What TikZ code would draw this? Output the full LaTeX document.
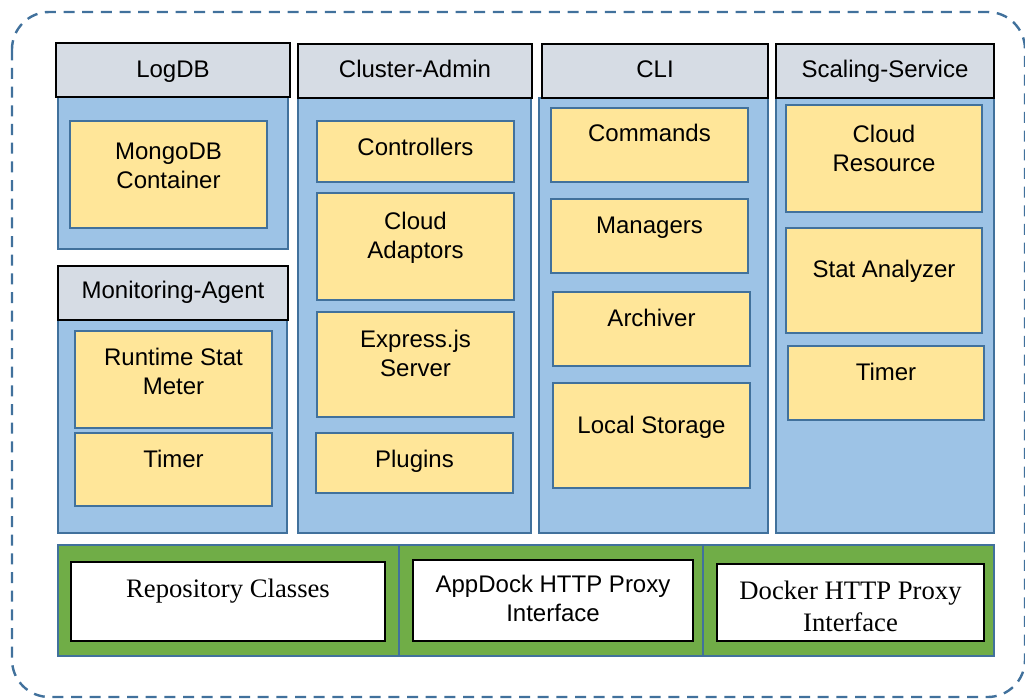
\documentclass[tikz,border=0pt]{standalone}
\usepackage{fontspec}
\setmainfont{Liberation Sans}
\newfontfamily\serifface{Liberation Serif}

\definecolor{hdrgray}{HTML}{D6DCE4}
\definecolor{panelblue}{HTML}{9DC3E6}
\definecolor{partyellow}{HTML}{FFE699}
\definecolor{bandgreen}{HTML}{70AD47}
\definecolor{steel}{HTML}{41719C}

\tikzset{
  hdr/.style={draw=black, line width=1pt, fill=hdrgray},
  panel/.style={draw=steel, line width=1.5pt, fill=panelblue},
  part/.style={draw=steel, line width=1.5pt, fill=partyellow},
  band/.style={draw=steel, line width=1.5pt, fill=bandgreen},
  iface/.style={draw=black, line width=0.9pt, fill=white},
  frame/.style={draw=steel, line width=1.8pt, dash pattern=on 8.25pt off 5.75pt, rounded corners=28pt},
  lbl/.style={anchor=north, inner sep=0pt, align=center, font=\fontsize{18}{21.6}\selectfont},
  slbl/.style={lbl, font=\serifface\fontsize{20}{23.8}\selectfont},
}

% \blk{name}{style}{x1}{y1}{x2}{y2}: a box given by its corners (in px units)
\newcommand\blk[6]{\node[#2, inner sep=0pt, minimum width={(#5-#3)*0.75pt}, minimum height={(#6-#4)*0.75pt}] (#1) at ({(#3+#5)/2},{(#4+#6)/2}) {};}
% \txt{name}{style}{x}{first baseline}{text}
\newcommand\txt[5]{\node[#2] (#1) at (#3,{#4-20}) {\rule{0pt}{15pt}#5};}

\begin{document}
\begin{tikzpicture}[x=0.75pt,y=-0.75pt]
\useasboundingbox (0,0) rectangle (1025,699);

% outer dashed boundary
\draw[frame] (12,12) rectangle (1025,697);

% ---- LogDB ----
\blk{logdb}{panel}{58}{97}{288}{249}
\blk{logdb-h}{hdr}{56}{43}{290}{97}
\txt{logdb-t}{lbl}{173}{77.5}{LogDB}
\blk{mongo}{part}{70}{121}{267}{228}
\txt{mongo-t}{lbl}{168.5}{159}{MongoDB\\Container}

% ---- Monitoring-Agent ----
\blk{mon}{panel}{58}{320}{287}{533}
\blk{mon-h}{hdr}{58}{266}{288}{320}
\txt{mon-t}{lbl}{173}{298.5}{Monitoring-Agent}
\blk{rsm}{part}{75}{331}{272}{428}
\txt{rsm-t}{lbl}{173.5}{365.5}{Runtime Stat\\Meter}
\blk{mtimer}{part}{75}{433}{272}{506}
\txt{mtimer-t}{lbl}{173.5}{467.5}{Timer}

% ---- Cluster-Admin ----
\blk{ca}{panel}{298}{98}{531}{533}
\blk{ca-h}{hdr}{298}{44}{532}{98}
\txt{ca-t}{lbl}{415}{77.5}{Cluster-Admin}
\blk{ctrl}{part}{317}{121}{514}{182}
\txt{ctrl-t}{lbl}{415.5}{155.5}{Controllers}
\blk{cad}{part}{317}{193}{514}{300}
\txt{cad-t}{lbl}{415.5}{229}{Cloud\\Adaptors}
\blk{exp}{part}{317}{312}{514}{417}
\txt{exp-t}{lbl}{415.5}{347.5}{Express.js\\Server}
\blk{plug}{part}{316}{433}{513}{493}
\txt{plug-t}{lbl}{414.5}{467.5}{Plugins}

% ---- CLI ----
\blk{cli}{panel}{539}{98}{768}{533}
\blk{cli-h}{hdr}{542}{44}{768}{98}
\txt{cli-t}{lbl}{655}{77.5}{CLI}
\blk{cmd}{part}{551}{108}{748}{182}
\txt{cmd-t}{lbl}{649.5}{141.5}{Commands}
\blk{mgr}{part}{551}{199}{748}{273}
\txt{mgr-t}{lbl}{649.5}{233.5}{Managers}
\blk{arc}{part}{553}{292}{750}{366}
\txt{arc-t}{lbl}{651.5}{326.5}{Archiver}
\blk{ls}{part}{553}{383}{750}{488}
\txt{ls-t}{lbl}{651.5}{433.5}{Local Storage}

% ---- Scaling-Service ----
\blk{ss}{panel}{776}{98}{994}{533}
\blk{ss-h}{hdr}{776}{44}{994}{98}
\txt{ss-t}{lbl}{885}{77.5}{Scaling-Service}
\blk{cr}{part}{786}{105}{982}{212}
\txt{cr-t}{lbl}{884}{142.5}{Cloud\\Resource}
\blk{sa}{part}{786}{228}{982}{333}
\txt{sa-t}{lbl}{884}{277.5}{Stat Analyzer}
\blk{stimer}{part}{788}{346}{984}{420}
\txt{stimer-t}{lbl}{886}{380}{Timer}

% ---- bottom interface band ----
\blk{g1}{band}{58}{545}{399}{656}
\blk{g2}{band}{399}{545}{703}{656}
\blk{g3}{band}{703}{545}{994}{656}
\blk{repo}{iface}{71}{562}{385}{641}
\txt{repo-t}{slbl}{228}{597.5}{Repository Classes}
\blk{adp}{iface}{413}{560}{693}{641}
\txt{adp-t}{lbl}{553}{592.5}{AppDock HTTP Proxy\\Interface}
\blk{dkp}{iface}{717}{564}{984}{641}
\txt{dkp-t}{slbl}{850.5}{599}{Docker HTTP Proxy\\Interface}
\end{tikzpicture}
\end{document}
